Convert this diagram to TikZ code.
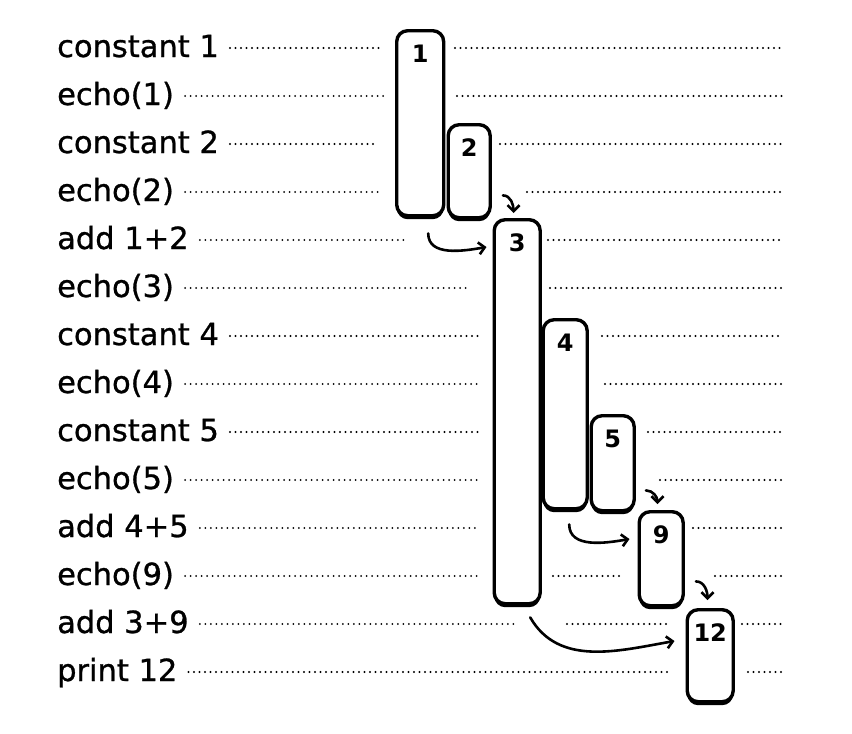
\documentclass[tikz,border=0pt]{standalone}
\usepackage{fontspec}
\setmainfont{DejaVu Sans}
\newfontfamily\hfont[FakeBold=0.9]{DejaVu Sans}
\usetikzlibrary{arrows.meta,calc,shadows}
\begin{document}
\begin{tikzpicture}[x=1pt,y=-1pt,
  lbl/.style={anchor=base west, inner sep=0pt, font=\hfont\fontsize{30.5}{32}\selectfont},
  dots/.style={line width=2.2pt, dash pattern=on 0pt off 5.5pt, line cap=round},
  stk/.style={draw, line width=3.4pt, rounded corners=11pt, fill=white, anchor=north west,
    inner sep=0pt, general shadow={fill=black, shadow xshift=0pt, shadow yshift=-3.5pt}},
  num/.style={font=\bfseries\fontsize{24}{28}\selectfont, inner sep=0pt},
  arr/.style={-{Straight Barb[length=6pt,width=12pt,line width=2.6pt]}, line width=2.6pt, line cap=round}]
\useasboundingbox (0,0) rectangle (852,734);
% labels
\foreach \t [count=\i from 0] in {constant 1,echo(1),constant 2,echo(2),add 1+2,echo(3),constant 4,echo(4),constant 5,echo(5),add 4+5,echo(9),add 3+9,print 12}
  \node[lbl] (l\i) at (57,{57+48*\i}) {\t};
% left dotted lines
\foreach \i/\e in {0/383,1/385,2/377,3/380,4/408,5/470,6/480,7/478,8/478,9/478,10/478,11/478,12/515,13/668}
  \draw[dots] ([shift={(11,-9)}]l\i.base east) -- (\e,{48+48*\i});
% right dotted lines
\foreach \i/\s in {0/455,1/457,2/500,3/527,4/548,5/550,6/602,7/605,8/648,9/660,10/693,11/715,12/742,13/748}
  \draw[dots] (\s,{48+48*\i}) -- (783,{48+48*\i});
% middle dotted lines
\draw[dots] (553,576) -- (620,576);
\draw[dots] (567,624) -- (670,624);
% stack boxes
\node[stk, minimum width=47pt, minimum height=185pt] (b1) at (395,29) {};
\node[stk, minimum width=42pt, minimum height=93pt] (b2) at (446.5,123) {};
\node[stk, minimum width=46pt, minimum height=384pt] (b3) at (492.5,218) {};
\node[stk, minimum width=44pt, minimum height=189pt] (b4) at (541.5,318) {};
\node[stk, minimum width=43pt, minimum height=95pt] (b5) at (589.5,414) {};
\node[stk, minimum width=44pt, minimum height=94pt] (b9) at (637.5,510) {};
\node[stk, minimum width=46pt, minimum height=92pt] (b12) at (685.5,608) {};
% numbers
\foreach \b/\n in {b1/1,b2/2,b3/3,b4/4,b5/5,b9/9,b12/12}
  \node[num] (n\b) at ([yshift=-25pt]\b.north) {\n};
% arrows
\draw[arr] ([shift={(11,-24)}]b2.south east) to[out=0,in=90] ([shift={(21,-5)}]b3.north west);
\draw[arr] ([shift={(8,16)}]b1.south) to[out=-90,in=190] ([shift={(-6,29)}]b3.north west);
\draw[arr] ([shift={(10,-22)}]b5.south east) to[out=0,in=90] ([shift={(20,-6)}]b9.north west);
\draw[arr] ([shift={(4,14)}]b4.south) to[out=-90,in=190] ([shift={(-8,29)}]b9.north west);
\draw[arr] ([shift={(11,-26)}]b9.south east) to[out=0,in=90] ([shift={(22,-8)}]b12.north west);
\draw[arr] ([shift={(13,12)}]b3.south) to[out=-60,in=190] ([shift={(-11,33)}]b12.north west);
\end{tikzpicture}
\end{document}
